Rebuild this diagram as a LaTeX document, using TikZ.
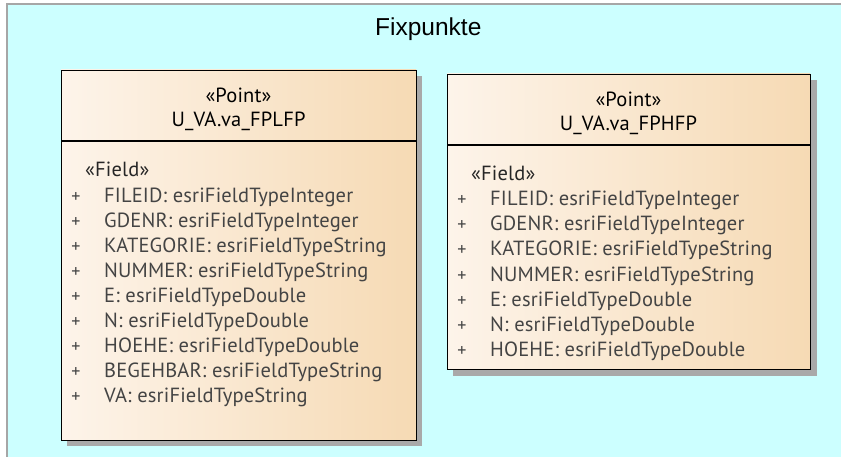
\documentclass[tikz,border=0pt]{standalone}
\usepackage{fontspec}
\setmainfont{PT Sans}[LetterSpace=0.8]
\newfontfamily\titlefont{Liberation Sans}
\begin{document}
\begin{tikzpicture}[x=1pt,y=-1pt,
  pkgframe/.style={draw=black!35, line width=2pt, fill=pkgcyan},
  boxshadow/.style={fill=shadowgray, draw=none},
  boxfill/.style={shade, left color=boxlight, right color=boxdark},
  boxedge/.style={draw=black, line width=1.3pt, inner sep=0pt, anchor=north west, rectangle},
  stereo/.style={font=\fontsize{20.5}{20.5}\selectfont, text=black, anchor=base, inner sep=0pt},
  fieldtxt/.style={font=\fontsize{20.5}{20.5}\selectfont, text=fieldgray, anchor=base west, inner sep=0pt},
  plus/.style={font=\fontsize{18}{18}\selectfont, text=fieldgray, anchor=base, inner sep=0pt},
  divider/.style={draw=black, line width=1.3pt}]
\definecolor{pkgcyan}{HTML}{CCFFFF}
\definecolor{boxlight}{HTML}{FDF4EA}
\definecolor{boxdark}{HTML}{F6DAB4}
\definecolor{shadowgray}{HTML}{A9A9A9}
\definecolor{fieldgray}{HTML}{444444}

\useasboundingbox (0,0) rectangle (841,457);

% package frame (runs past the right and bottom edges)
\begin{scope}
\clip (0,0) rectangle (841,457);
\draw[pkgframe] (7,4.5) rectangle (860,480);
\end{scope}
\node[font=\titlefont\fontsize{24.5}{24.5}\selectfont, anchor=base west, inner sep=0pt] (title) at (375,36) {Fixpunkte};

% ---------- class U_VA.va_FPLFP ----------
\fill[boxshadow] (67,76) rectangle (422,446);
\path[boxfill] (61,70) rectangle (416,440);
\node[boxedge, minimum width=355pt, minimum height=370pt] (lfp) at (61,70) {};
\coordinate (lfpdl) at (61,141);
\coordinate (lfpdr) at (416,141);
\draw[divider] (lfpdl) -- (lfpdr);
\node[stereo] (lfpst) at (238.5,103) {«Point»};
\node[stereo] (lfpname) at (238.5,126.5) {U\_VA.va\_FPLFP};
\node[fieldtxt, text=black!85] (lfpfield) at (85,177) {«Field»};
\foreach \i/\t in {0/{FILEID: esriFieldTypeInteger},
                   1/{GDENR: esriFieldTypeInteger},
                   2/{KATEGORIE: esriFieldTypeString},
                   3/{NUMMER: esriFieldTypeString},
                   4/{E: esriFieldTypeDouble},
                   5/{N: esriFieldTypeDouble},
                   6/{HOEHE: esriFieldTypeDouble},
                   7/{BEGEHBAR: esriFieldTypeString},
                   8/{VA: esriFieldTypeString}}{
  \node[plus] (lfpp\i) at (76,202.5+25*\i) {+};
  \node[fieldtxt] (lfpf\i) at (104,202.5+25*\i) {\t};
}

% ---------- class U_VA.va_FPHFP ----------
\fill[boxshadow] (453,80) rectangle (817,376);
\path[boxfill] (447,74) rectangle (810,369);
\node[boxedge, minimum width=363pt, minimum height=295pt] (hfp) at (447,74) {};
\coordinate (hfpdl) at (447,145);
\coordinate (hfpdr) at (810,145);
\draw[divider] (hfpdl) -- (hfpdr);
\node[stereo] (hfpst) at (628.5,107) {«Point»};
\node[stereo] (hfpname) at (628.5,130.5) {U\_VA.va\_FPHFP};
\node[fieldtxt, text=black!85] (hfpfield) at (471,180.5) {«Field»};
\foreach \i/\t in {0/{FILEID: esriFieldTypeInteger},
                   1/{GDENR: esriFieldTypeInteger},
                   2/{KATEGORIE: esriFieldTypeString},
                   3/{NUMMER: esriFieldTypeString},
                   4/{E: esriFieldTypeDouble},
                   5/{N: esriFieldTypeDouble},
                   6/{HOEHE: esriFieldTypeDouble}}{
  \node[plus] (hfpp\i) at (462,206+25*\i) {+};
  \node[fieldtxt] (hfpf\i) at (490,206+25*\i) {\t};
}
\end{tikzpicture}
\end{document}
